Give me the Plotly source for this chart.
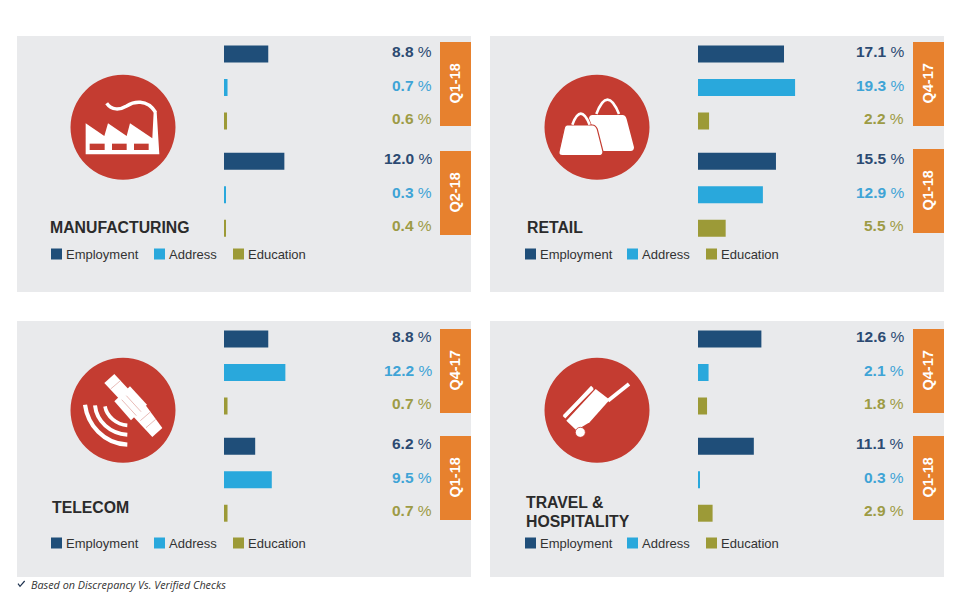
import re
import plotly.graph_objects as go

W, H = 972, 600

# ---- data -----------------------------------------------------------------
series_names = ["Employment", "Address", "Education"]

manufacturing_quarters = ["Q1-18", "Q2-18"]
manufacturing_employment = [8.8, 12.0]
manufacturing_address = [0.7, 0.3]
manufacturing_education = [0.6, 0.4]

retail_quarters = ["Q4-17", "Q1-18"]
retail_employment = [17.1, 15.5]
retail_address = [19.3, 12.9]
retail_education = [2.2, 5.5]

telecom_quarters = ["Q4-17", "Q1-18"]
telecom_employment = [8.8, 6.2]
telecom_address = [12.2, 9.5]
telecom_education = [0.7, 0.7]

travel_quarters = ["Q4-17", "Q1-18"]
travel_employment = [12.6, 11.1]
travel_address = [2.1, 0.3]
travel_education = [1.8, 2.9]

footnote = "Based on Discrepancy Vs. Verified Checks"

# ---- styling --------------------------------------------------------------
BAR_COLORS = ["#1f4e79", "#29a8dc", "#9c9a37"]
LABEL_COLORS = ["#2c4a72", "#3fa4d6", "#9d9b45"]
PANEL_BG = "#e9eaec"
ORANGE = "#e7812e"
RED = "#c43c31"
WHITE = "#ffffff"
FONT = "Liberation Sans, Arial, sans-serif"
TEXT_PAD = 2  # plotly insets annotation text by this many pixels


def px(x):
    return x / W


def py(y):
    return 1 - y / H


def rect(x0, y0, x1, y1, color, layer="below"):
    return dict(type="rect", xref="paper", yref="paper", x0=px(x0), x1=px(x1),
                y0=py(y1), y1=py(y0), fillcolor=color, layer=layer,
                line=dict(width=0, color=color))


def icon_path(d, ox, oy, fill=None, stroke=None, width=0):
    """Path given in 3x local pixels, converted to paper coordinates."""
    nums = iter(re.findall(r"[A-Za-z]|-?\d+\.?\d*", d))
    out = []
    for tok in nums:
        if tok.isalpha():
            out.append(tok)
        else:
            yv = next(nums)
            out.append(f"{px(ox + float(tok) / 3):.5f},{py(oy + float(yv) / 3):.5f}")
    return dict(type="path", xref="paper", yref="paper", path=" ".join(out),
                layer="above", fillcolor=fill or "rgba(0,0,0,0)",
                line=dict(color=stroke or "rgba(0,0,0,0)", width=width))


def circle(cx, cy, r, color, line_color=None, line_width=0):
    return dict(type="circle", xref="paper", yref="paper", x0=px(cx - r), x1=px(cx + r),
                y0=py(cy + r), y1=py(cy - r), fillcolor=color, layer="above",
                line=dict(width=line_width, color=line_color or color))


def factory(ox, oy):
    s = [icon_path("M62,253 L62,160 L118,198 L129,160 L185,198 L195,160 L262,205 L266,125 "
                   "L275,125 L283,253 Z", ox, oy, fill=WHITE),
         icon_path("M125,100 C140,122 165,120 185,108 C205,95 245,85 272,127", ox, oy,
                   stroke=WHITE, width=3.4)]
    for a, b in [(74, 119), (141, 185), (207, 251)]:
        s.append(icon_path(f"M{a},221 L{b},221 L{b},240 L{a},240 Z", ox, oy, fill=RED))
    return s


def bags(ox, oy):
    return [
        icon_path("M172,132 Q205,46 240,132", ox, oy, stroke=WHITE, width=2.6),
        icon_path("M160,135 L250,135 Q260,135 263,148 L285,232 Q285,243 275,243 L190,243 "
                  "L150,145 Q152,135 160,135 Z", ox, oy, fill=WHITE),
        icon_path("M85,165 L160,165 Q170,165 175,178 L192,245 Q192,257 180,257 L70,257 "
                  "Q58,257 60,245 L75,178 Q77,165 85,165 Z", ox, oy, fill=WHITE, stroke=RED, width=1.2),
        icon_path("M100,164 Q125,98 152,164", ox, oy, stroke=WHITE, width=2.6),
    ]


def satellite(ox, oy):
    s = [icon_path("M118,90 L148,63 L192,110 L163,138 Z", ox, oy, fill=WHITE),
         icon_path("M148,145 L195,100 L246,155 L198,202 Z", ox, oy, fill=WHITE),
         icon_path("M204,190 L242,157 L292,225 L262,252 Z", ox, oy, fill=WHITE),
         icon_path("M60,155 C68,215 115,272 187,275", ox, oy, stroke=WHITE, width=4.2),
         icon_path("M90,157 C95,205 135,242 187,245", ox, oy, stroke=WHITE, width=4),
         icon_path("M120,160 C125,190 155,215 187,217", ox, oy, stroke=WHITE, width=3.6)]
    for d in ["M137,108 L165,84", "M226,203 L256,177", "M243,224 L272,199",
              "M170,140 L214,188", "M184,128 L228,176"]:
        s.append(icon_path(d, ox, oy, stroke="#e2a9a4", width=0.8))
    return s


def luggage(ox, oy):
    return [
        icon_path("M82,203 L170,108 L212,140 L152,208 L112,232 Z", ox, oy, fill=WHITE),
        icon_path("M75,193 L160,102", ox, oy, stroke=WHITE, width=3.6),
        icon_path("M76,190 L160,106", ox, oy, stroke=WHITE, width=3.6),
        icon_path("M207,143 L270,93", ox, oy, stroke=WHITE, width=3.8),
        circle(ox + 124 / 3, oy + 238 / 3, 5, WHITE, RED, 0.8),
    ]


panels = [
    dict(title=["MANUFACTURING"], title_x=50, title_y=[227],
         quarters=manufacturing_quarters,
         values=[manufacturing_employment, manufacturing_address, manufacturing_education],
         left=17, top=36, bar_x=224, label_x=431.5, tab_x=440, tab_tops=[42, 151],
         icon=factory, icon_x=65, icon_y=70, legend_x=[51, 154, 233], legend_y=254),
    dict(title=["RETAIL"], title_x=527, title_y=[227],
         quarters=retail_quarters,
         values=[retail_employment, retail_address, retail_education],
         left=490, top=36, bar_x=698, label_x=903.5, tab_x=913, tab_tops=[42, 149],
         icon=bags, icon_x=539, icon_y=70, legend_x=[525, 627, 706], legend_y=254),
    dict(title=["TELECOM"], title_x=52, title_y=[507],
         quarters=telecom_quarters,
         values=[telecom_employment, telecom_address, telecom_education],
         left=17, top=321, bar_x=224, label_x=431.5, tab_x=440, tab_tops=[329, 436],
         icon=satellite, icon_x=65, icon_y=353, legend_x=[51, 154, 233], legend_y=543),
    dict(title=["TRAVEL &", "HOSPITALITY"], title_x=526, title_y=[502, 521],
         quarters=travel_quarters,
         values=[travel_employment, travel_address, travel_education],
         left=490, top=321, bar_x=698, label_x=903.5, tab_x=913, tab_tops=[329, 436],
         icon=luggage, icon_x=539, icon_y=353, legend_x=[525, 627, 706], legend_y=543),
]

PANEL_W, PANEL_H = 454, 256
ROW_H = 33.5          # pixels from one bar row to the next
GROUP_GAP = 0.2       # extra rows between the two quarters
PX_PER_PCT = 5.03
AXIS_MAX = 20
BAR_HEIGHT = 17 / ROW_H

fig = go.Figure()
shapes, annotations = [], []
layout_axes = {}


def text(x, y, s, size, color, xanchor="left", bold=False, **kw):
    annotations.append(dict(xref="paper", yref="paper", x=px(x), y=py(y),
                            text=f"<b>{s}</b>" if bold else s, showarrow=False,
                            xanchor=xanchor, yanchor="middle",
                            font=dict(family=FONT, size=size, color=color), **kw))


for i, p in enumerate(panels):
    n = i + 1
    suffix = "" if n == 1 else str(n)
    top = p["top"]
    shapes.append(rect(p["left"], top, p["left"] + PANEL_W, top + PANEL_H, PANEL_BG))

    # rows: three bars for each quarter
    rows_by_quarter = [[q * (3 + GROUP_GAP) + s for q in range(2)] for s in range(3)]
    first_center = top + 18
    y_top = first_center - ROW_H / 2
    y_bot = y_top + ROW_H * (5 + GROUP_GAP + 1)
    layout_axes[f"xaxis{suffix}"] = dict(
        domain=[px(p["bar_x"]), px(p["bar_x"] + PX_PER_PCT * AXIS_MAX)],
        range=[0, AXIS_MAX], visible=False, anchor=f"y{suffix}", fixedrange=True)
    layout_axes[f"yaxis{suffix}"] = dict(
        domain=[py(y_bot), py(y_top)], range=[5 + GROUP_GAP + 0.5, -0.5],
        visible=False, anchor=f"x{suffix}", fixedrange=True)

    for s, name in enumerate(series_names):
        vals = p["values"][s]
        fig.add_trace(go.Bar(
            x=vals, y=rows_by_quarter[s], orientation="h", name=name,
            width=BAR_HEIGHT, marker=dict(color=BAR_COLORS[s], line=dict(width=0)),
            xaxis=f"x{suffix}", yaxis=f"y{suffix}", showlegend=False,
            hovertemplate=name + ": %{x} %<extra></extra>"))
        for row, v in zip(rows_by_quarter[s], vals):
            annotations.append(dict(
                xref="paper", yref=f"y{suffix}", x=px(p["label_x"] + TEXT_PAD), y=row, yshift=2.5,
                text=f"<b>{v:.1f}</b> %", showarrow=False, xanchor="right", yanchor="middle",
                font=dict(family=FONT, size=15.5, color=LABEL_COLORS[s])))

        # key
        lx = p["legend_x"][s]
        ly = p["legend_y"]
        shapes.append(rect(lx, ly - 5.5, lx + 11, ly + 5.5, BAR_COLORS[s], layer="above"))
        text(lx + 15 - TEXT_PAD, ly, name, 13, "#333333")

    # quarter tabs
    for qt, q in zip(p["tab_tops"], p["quarters"]):
        shapes.append(rect(p["tab_x"], qt, p["tab_x"] + 31, qt + 84, ORANGE))
        text(p["tab_x"] + 14.5, qt + 42, q, 14.5, WHITE, xanchor="center", bold=True, textangle=-90)

    # titles
    for line, ty in zip(p["title"], p["title_y"]):
        text(p["title_x"] - TEXT_PAD, ty, line, 15.8, "#2b2b2b", bold=True)

    # icon
    ox, oy = p["icon_x"], p["icon_y"]
    shapes.append(circle(ox + 58, oy + 57.3, 52.5, RED))
    shapes.extend(p["icon"](ox, oy))

# footnote
shapes.append(icon_path("M0,8 L6,16 L20,0", 18, 581, stroke="#1f3350", width=1.2))
annotations.append(dict(xref="paper", yref="paper", x=px(29), y=py(584.5), text=f"<i>{footnote}</i>",
                        showarrow=False, xanchor="left", yanchor="middle",
                        font=dict(family="Open Sans, sans-serif", size=10.8, color="#333333")))

fig.update_layout(
    width=W, height=H, autosize=False, margin=dict(l=0, r=0, t=0, b=0, pad=0),
    paper_bgcolor="white", plot_bgcolor="rgba(0,0,0,0)", barmode="overlay", showlegend=False,
    shapes=shapes, annotations=annotations, font=dict(family=FONT), **layout_axes)

fig.write_html("out.html", config=dict(displayModeBar=False),
               post_script="document.body.style.margin='0';")
